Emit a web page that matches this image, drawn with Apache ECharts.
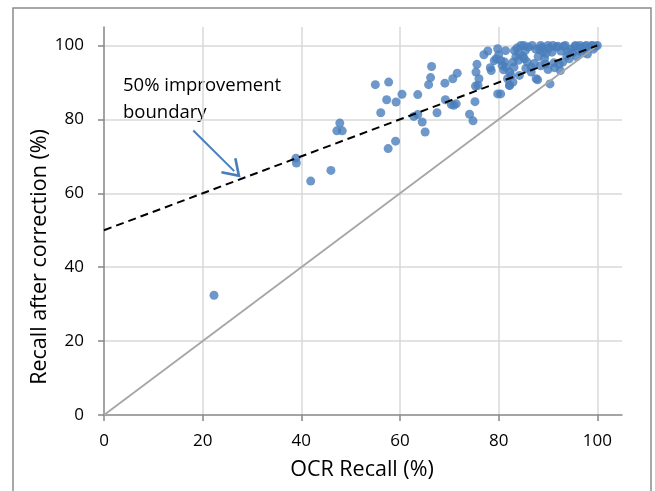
<!DOCTYPE html>
<html>
<head>
<meta charset="utf-8">
<script src="https://cdn.jsdelivr.net/npm/echarts@6/dist/echarts.min.js"></script>
<style>
  html, body { margin: 0; padding: 0; background: #fff; }
  #chart { width: 655px; height: 491px; }
</style>
</head>
<body>
<div id="chart"></div>
<script>
// OCR recall vs recall after correction, one point per document
var ocrRecall = [
  22.3, 38.9, 39.0, 41.9, 46.0, 47.8, 47.2, 48.3, 55.0, 56.1,
  57.3, 57.6, 57.7, 59.1, 59.2, 60.4, 62.8, 63.6, 63.6, 64.5,
  65.1, 65.8, 66.2, 66.4, 67.5, 69.1, 69.2, 70.4, 70.9, 71.4,
  70.7, 71.6, 74.1, 74.8, 75.2, 75.3, 75.8, 76.0, 75.4, 75.6,
  77.8, 78.3, 78.5, 79.1, 79.8, 79.8, 79.5, 80.5, 80.7, 81.0,
  81.2, 81.4, 81.5, 81.8, 82.2, 82.2, 82.5, 82.9, 82.9, 83.1,
  83.2, 83.7, 84.2, 84.2, 84.5, 84.9, 85.1, 85.2, 85.4, 85.8,
  85.5, 86.6, 86.6, 87.2, 87.6, 87.9, 88.0, 88.3, 88.8, 89.3,
  89.6, 90.4, 90.2, 90.8, 91.2, 91.3, 91.7, 92.3, 92.5, 92.6,
  93.0, 93.2, 93.8, 94.3, 94.6, 95.0, 95.4, 95.8, 96.2, 96.7,
  97.1, 97.5, 98.0, 98.3, 98.8, 99.2, 99.6, 100.0, 86.0, 86.8,
  87.5, 88.5, 89.0, 90.0, 91.0, 92.0, 93.5, 94.0, 95.6, 96.5,
  97.0, 97.8, 99.0, 84.0, 83.5, 80.0, 77.0, 88.5, 89.5, 90.0,
  80.4, 82.2
];
var correctedRecall = [
  32.4, 69.5, 68.2, 63.3, 66.2, 79.0, 76.9, 76.9, 89.4, 81.8,
  85.3, 72.1, 90.1, 74.1, 84.7, 86.8, 80.8, 81.3, 86.7, 79.3,
  76.6, 89.4, 91.3, 94.3, 81.8, 89.8, 85.3, 84.0, 83.8, 84.2,
  91.0, 92.5, 81.4, 79.6, 84.8, 89.0, 89.2, 91.0, 92.8, 94.9,
  98.5, 94.0, 93.2, 95.9, 86.9, 99.1, 96.4, 95.9, 94.6, 93.4,
  95.5, 98.6, 94.1, 91.0, 92.8, 89.2, 91.9, 95.5, 90.1, 94.1,
  98.6, 99.3, 97.7, 91.9, 100.0, 97.1, 100.0, 96.4, 98.6, 95.5,
  93.8, 94.1, 92.8, 95.1, 91.0, 90.7, 97.0, 98.9, 99.5, 96.5,
  97.8, 89.6, 99.3, 98.2, 95.3, 94.0, 99.6, 95.0, 93.2, 98.5,
  95.5, 99.8, 97.2, 96.4, 99.0, 98.0, 99.7, 97.0, 98.6, 99.4,
  98.0, 99.8, 97.7, 99.3, 99.9, 99.0, 99.8, 100.0, 99.6, 100.0,
  99.0, 100.0, 98.3, 100.0, 100.0, 99.8, 100.0, 98.3, 100.0, 100.0,
  99.0, 100.0, 100.0, 96.0, 97.0, 97.5, 97.5, 94.5, 95.0, 93.5,
  86.9, 89.2
];

// reference lines: no change (y = x) and 50% improvement (y = 50 + x/2)
var diagonalX = [0, 100];
var diagonalY = [0, 100];
var boundaryX = [0, 100];
var boundaryY = [50, 100];

// annotation arrow, start and end in data units
var arrowFrom = [18.1, 77.0];
var arrowTo = [26.4, 66.0];

var xTicks = [0, 20, 40, 60, 80, 100];

var fontFam = 'Open Sans';

function zip(a, b) {
  return a.map(function (v, i) { return [v, b[i]]; });
}

var chart = echarts.init(document.getElementById('chart'));

var option = {
  backgroundColor: '#fff',
  animation: false,
  textStyle: { fontFamily: fontFam },
  grid: { left: 104, right: 33, top: 27, bottom: 76 },
  xAxis: {
    type: 'value',
    min: 0,
    max: 105,
    interval: 20,
    axisLine: { show: true, onZero: false, lineStyle: { color: '#868686', width: 1.5 } },
    axisTick: { show: true, length: 6, lineStyle: { color: '#868686', width: 1.5 } },
    axisLabel: {
      color: '#000', fontSize: 17, margin: 18, fontFamily: fontFam,
      showMaxLabel: false,
      formatter: function (v) { return xTicks.indexOf(v) >= 0 ? String(v) : ''; }
    },
    splitLine: { show: true, showMinLine: false, showMaxLine: false, lineStyle: { color: '#d9d9d9', width: 1.5 } }
  },
  yAxis: {
    type: 'value',
    min: 0,
    max: 105,
    interval: 20,
    axisLine: { show: true, onZero: false, lineStyle: { color: '#868686', width: 1.5 } },
    axisTick: { show: true, length: 6, lineStyle: { color: '#868686', width: 1.5 } },
    axisLabel: {
      color: '#000', fontSize: 17, margin: 20, fontFamily: fontFam,
      showMaxLabel: false,
      formatter: function (v) { return xTicks.indexOf(v) >= 0 ? String(v) : ''; }
    },
    splitLine: { show: true, showMinLine: false, showMaxLine: false, lineStyle: { color: '#d9d9d9', width: 1.5 } }
  },
  series: [
    {
      name: 'documents',
      type: 'scatter',
      symbol: 'circle',
      symbolSize: 9,
      itemStyle: { color: '#4a7ebb' },
      data: zip(ocrRecall, correctedRecall),
      z: 2
    },
    {
      name: 'no change',
      type: 'line',
      data: zip(diagonalX, diagonalY),
      showSymbol: false,
      lineStyle: { color: '#a6a6a6', width: 1.8 },
      z: 3
    },
    {
      name: '50% improvement',
      type: 'line',
      data: zip(boundaryX, boundaryY),
      showSymbol: false,
      lineStyle: { color: '#000', width: 2, type: [8, 5] },
      z: 4,
      markLine: {
        silent: true,
        symbol: ['none', 'path://M10,0 L20,17 L18,18.5 L10,5 L2,18.5 L0,17 Z'],
        symbolSize: [22, 18],
        lineStyle: { color: '#4a7ebb', width: 2, type: 'solid' },
        label: { show: false },
        data: [[{ coord: arrowFrom }, { coord: arrowTo }]]
      }
    }
  ],
  graphic: [
    {
      type: 'rect',
      shape: { x: 13, y: 8, width: 638, height: 500 },
      style: { fill: 'none', stroke: '#8c8c8c', lineWidth: 1.5 },
      silent: true
    },
    {
      type: 'text',
      left: 123, top: 72,
      style: { text: '50% improvement\nboundary', fill: '#000', font: '18.5px "Open Sans"', lineHeight: 27 }
    },
    {
      type: 'text',
      x: 40, y: 257,
      rotation: Math.PI / 2,
      style: { text: 'Recall after correction (%)', fill: '#000', font: '21.5px "Open Sans"', align: 'center', verticalAlign: 'middle' }
    },
    {
      type: 'text',
      x: 362, y: 470,
      style: { text: 'OCR Recall (%)', fill: '#000', font: '21.5px "Open Sans"', align: 'center', verticalAlign: 'middle' }
    }
  ]
};

chart.setOption(option);
</script>
</body>
</html>
